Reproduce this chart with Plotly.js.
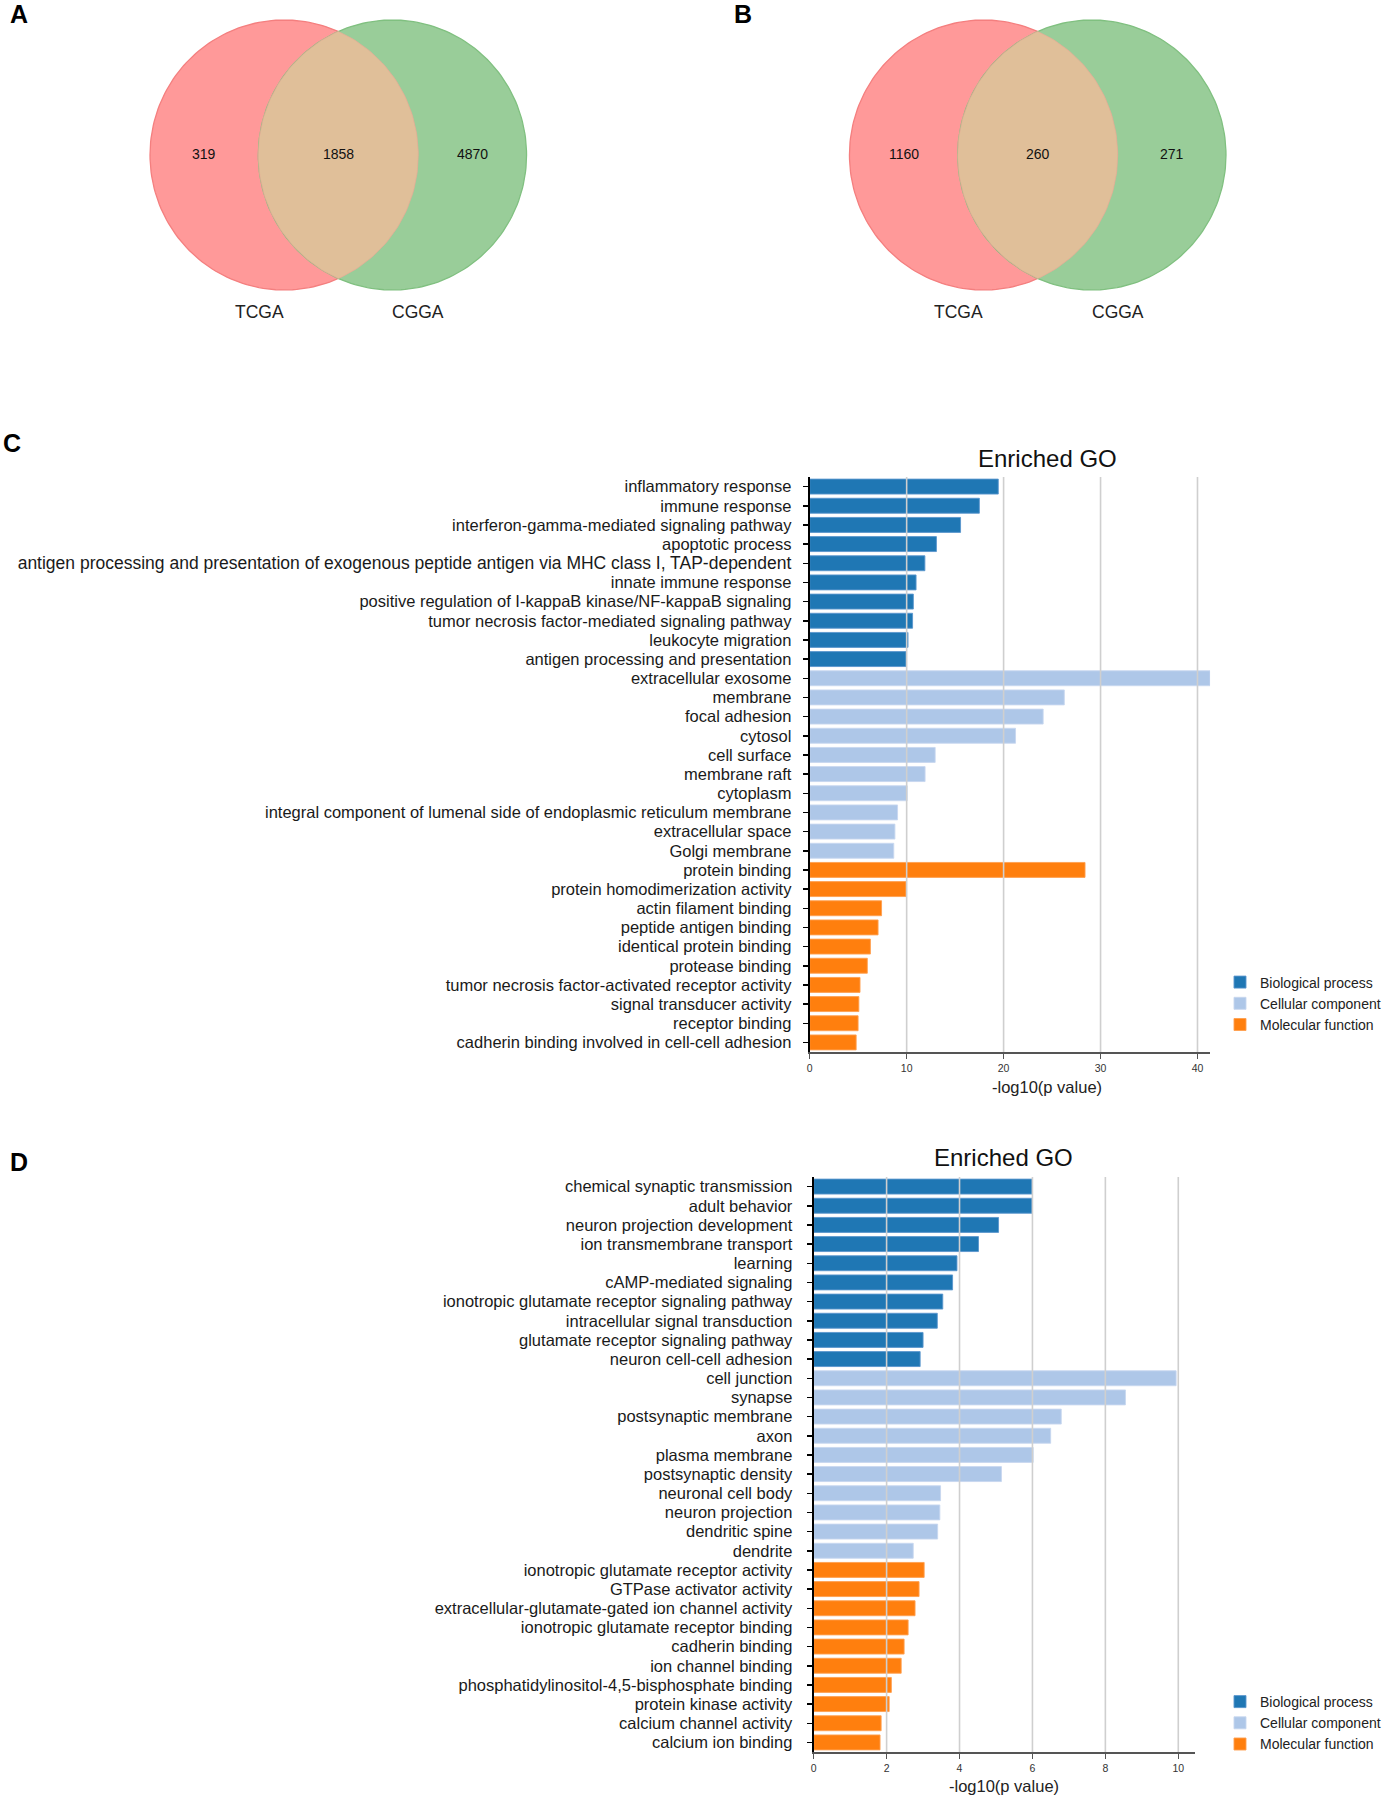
<!DOCTYPE html>
<html>
<head>
<meta charset="utf-8">
<script src="https://cdn.plot.ly/plotly-3.0.1.min.js"></script>
<style>html,body{margin:0;padding:0;background:#fff;}</style>
</head>
<body>
<div id="chart" style="width:1386px;height:1795px;"></div>
<script>
// ---------------- DATA ----------------
var vennSetNames = ['TCGA', 'CGGA'];
var vennACounts = [319, 1858, 4870];   // TCGA only, both, CGGA only
var vennBCounts = [1160, 260, 271];

var groupNames = ['Biological process', 'Cellular component', 'Molecular function'];
var groupColors = ['#1f77b4', '#aec7e8', '#ff7f0e'];

var cBPTerms = ['inflammatory response', 'immune response', 'interferon-gamma-mediated signaling pathway', 'apoptotic process',
  'antigen processing and presentation of exogenous peptide antigen via MHC class I, TAP-dependent', 'innate immune response',
  'positive regulation of I-kappaB kinase/NF-kappaB signaling', 'tumor necrosis factor-mediated signaling pathway',
  'leukocyte migration', 'antigen processing and presentation'];
var cBPValues = [19.45, 17.5, 15.56, 13.07, 11.88, 10.97, 10.69, 10.61, 10.14, 9.94];
var cCCTerms = ['extracellular exosome', 'membrane', 'focal adhesion', 'cytosol', 'cell surface', 'membrane raft', 'cytoplasm',
  'integral component of lumenal side of endoplasmic reticulum membrane', 'extracellular space', 'Golgi membrane'];
var cCCValues = [41.3, 26.26, 24.08, 21.23, 12.94, 11.9, 10.05, 9.06, 8.79, 8.67];
var cMFTerms = ['protein binding', 'protein homodimerization activity', 'actin filament binding', 'peptide antigen binding',
  'identical protein binding', 'protease binding', 'tumor necrosis factor-activated receptor activity',
  'signal transducer activity', 'receptor binding', 'cadherin binding involved in cell-cell adhesion'];
var cMFValues = [28.4, 9.94, 7.41, 7.05, 6.26, 5.94, 5.19, 5.07, 4.99, 4.79];
var cTickVals = [0, 10, 20, 30, 40];

var dBPTerms = ['chemical synaptic transmission', 'adult behavior', 'neuron projection development', 'ion transmembrane transport',
  'learning', 'cAMP-mediated signaling', 'ionotropic glutamate receptor signaling pathway', 'intracellular signal transduction',
  'glutamate receptor signaling pathway', 'neuron cell-cell adhesion'];
var dBPValues = [5.99, 5.99, 5.07, 4.52, 3.93, 3.81, 3.54, 3.39, 3.0, 2.92];
var dCCTerms = ['cell junction', 'synapse', 'postsynaptic membrane', 'axon', 'plasma membrane', 'postsynaptic density',
  'neuronal cell body', 'neuron projection', 'dendritic spine', 'dendrite'];
var dCCValues = [9.94, 8.55, 6.79, 6.5, 6.02, 5.15, 3.48, 3.46, 3.4, 2.73];
var dMFTerms = ['ionotropic glutamate receptor activity', 'GTPase activator activity', 'extracellular-glutamate-gated ion channel activity',
  'ionotropic glutamate receptor binding', 'cadherin binding', 'ion channel binding', 'phosphatidylinositol-4,5-bisphosphate binding',
  'protein kinase activity', 'calcium channel activity', 'calcium ion binding'];
var dMFValues = [3.03, 2.89, 2.78, 2.59, 2.48, 2.4, 2.13, 2.07, 1.85, 1.82];
var dTickVals = [0, 2, 4, 6, 8, 10];
var xAxisTitle = '-log10(p value)';
var chartTitle = 'Enriched GO';

// ---------------- LAYOUT HELPERS ----------------
var W = 1386, H = 1795;
var FONT = '"Liberation Sans", Arial, Helvetica, sans-serif';
function px(x) { return x / W; }
function py(y) { return 1 - y / H; }

var traces = [];
var annotations = [];
var shapes = [];

function addText(xref, yref, x, y, text, size, color) {
  annotations.push({xref: xref, yref: yref, x: x, y: y, xanchor: 'center', yanchor: 'middle', text: text,
    showarrow: false, font: {family: FONT, size: size, color: color}});
}

// ---------------- VENN ----------------
var R = 135, D = 109, CY = 155;
function circlePts(cx, cy, r, t0, t1, n) {
  var xs = [], ys = [];
  for (var i = 0; i <= n; i++) {
    var t = t0 + (t1 - t0) * i / n;
    xs.push(cx + r * Math.cos(t)); ys.push(cy + r * Math.sin(t));
  }
  return {x: xs, y: ys};
}
function addVenn(cx1, counts) {
  var cx2 = cx1 + D;
  var c1 = circlePts(cx1, CY, R, 0, 2 * Math.PI, 200);
  var c2 = circlePts(cx2, CY, R, 0, 2 * Math.PI, 200);
  traces.push({type: 'scatter', mode: 'lines', x: c1.x, y: c1.y, xaxis: 'x3', yaxis: 'y3', fill: 'toself',
    fillcolor: '#FF9999', line: {color: '#F47F7F', width: 1.3}, showlegend: false, hoverinfo: 'skip'});
  traces.push({type: 'scatter', mode: 'lines', x: c2.x, y: c2.y, xaxis: 'x3', yaxis: 'y3', fill: 'toself',
    fillcolor: '#99CD99', line: {color: '#80C080', width: 1.3}, showlegend: false, hoverinfo: 'skip'});
  var th = Math.acos((D / 2) / R);
  var a1 = circlePts(cx1, CY, R, -th, th, 80);
  var a2 = circlePts(cx2, CY, R, Math.PI - th, Math.PI + th, 80);
  traces.push({type: 'scatter', mode: 'lines', x: a1.x.concat(a2.x), y: a1.y.concat(a2.y), xaxis: 'x3', yaxis: 'y3',
    fill: 'toself', fillcolor: '#E0BF99', line: {color: 'rgba(235,170,150,0.7)', width: 1}, showlegend: false, hoverinfo: 'skip'});
  var lensL = cx2 - R, lensR = cx1 + R;
  var xsText = [((cx1 - R) + lensL) / 2, (cx1 + cx2) / 2, (lensR + (cx2 + R)) / 2];
  for (var i = 0; i < 3; i++) addText('x3', 'y3', xsText[i], CY - 1, String(counts[i]), 14, '#111');
  addText('x3', 'y3', cx1 - 25, 312, vennSetNames[0], 17.5, '#222');
  addText('x3', 'y3', cx2 + 26, 312, vennSetNames[1], 17.5, '#222');
}
addVenn(286, vennACounts);
addVenn(990, vennBCounts);

// ---------------- BAR CHARTS ----------------
var cTerms = cBPTerms.concat(cCCTerms, cMFTerms);
var dTerms = dBPTerms.concat(dCCTerms, dMFTerms);
var edgeColors = ['rgba(90,150,205,0.9)', 'rgba(200,215,240,0.9)', 'rgba(255,160,80,0.9)'];

function addBars(termsArr, valsArr, xa, ya, legendId) {
  for (var g = 0; g < 3; g++) {
    traces.push({type: 'bar', orientation: 'h', x: valsArr[g], y: termsArr[g], xaxis: xa, yaxis: ya,
      name: groupNames[g], legend: legendId, showlegend: true,
      marker: {color: groupColors[g], line: {color: edgeColors[g], width: 1}}, hoverinfo: 'skip'});
  }
}
addBars([cBPTerms, cCCTerms, cMFTerms], [cBPValues, cCCValues, cMFValues], 'x', 'y', 'legend');
addBars([dBPTerms, dCCTerms, dMFTerms], [dBPValues, dCCValues, dMFValues], 'x2', 'y2', 'legend2');

// grid lines drawn above bars
cTickVals.slice(1).forEach(function (v) {
  shapes.push({type: 'line', xref: 'x', yref: 'y domain', x0: v, x1: v, y0: 0, y1: 1, layer: 'above',
    line: {color: '#cfcfcf', width: 1.6}});
});
dTickVals.slice(1).forEach(function (v) {
  shapes.push({type: 'line', xref: 'x2', yref: 'y2 domain', x0: v, x1: v, y0: 0, y1: 1, layer: 'above',
    line: {color: '#cfcfcf', width: 1.6}});
});

// titles and axis titles
addText('paper', 'paper', px(1054), py(458), chartTitle, 24, '#111');
addText('paper', 'paper', px(1010), py(1157), chartTitle, 24, '#111');
addText('paper', 'paper', px(1054), py(1087), xAxisTitle, 16.5, '#222');
addText('paper', 'paper', px(1011), py(1786), xAxisTitle, 16.5, '#222');

// panel letters
[['A', 19, 14], ['B', 748, 14], ['C', 12, 443], ['D', 19, 1162]].forEach(function (p) {
  addText('paper', 'paper', px(p[1]), py(p[2]), '<b>' + p[0] + '</b>', 25, '#000');
});

function xAxis(domain, range, ticks, anchor) {
  return {domain: domain, range: range, autorange: false, anchor: anchor, tickmode: 'array', tickvals: ticks,
    showgrid: false, zeroline: false,
    showline: true, linecolor: '#555', linewidth: 2, ticks: 'outside', ticklen: 5, tickcolor: '#555', tickwidth: 1,
    tickfont: {family: FONT, size: 10.5, color: '#333'}, fixedrange: true};
}
// the very long MHC label is drawn a little wider in the original figure
function labelText(t) {
  return t.length > 80 ? '<span style="font-size:17.5px">' + t + '</span>' : t;
}
function yAxis(domain, cats, anchor, standoff) {
  return {domain: domain, type: 'category', categoryorder: 'array', categoryarray: cats, range: [cats.length - 0.5, -0.5],
    autorange: false, anchor: anchor, tickmode: 'array', tickvals: cats, ticktext: cats.map(labelText),
    showgrid: false, zeroline: false, showline: true, linecolor: '#000', linewidth: 2,
    ticks: 'outside', ticklen: 5, tickwidth: 1.5, tickcolor: '#000', ticklabelstandoff: standoff,
    tickfont: {family: FONT, size: 16.5, color: '#1a1a1a'}, fixedrange: true};
}

var layout = {
  width: W, height: H, autosize: false,
  margin: {l: 0, r: 0, t: 0, b: 0, pad: 0},
  paper_bgcolor: '#fff', plot_bgcolor: '#fff',
  font: {family: FONT},
  bargap: 0.22,
  showlegend: true,
  xaxis: xAxis([px(815), px(1218)], [0, 41.3], cTickVals, 'y'),
  yaxis: yAxis([py(1052), py(477)], cTerms, 'x', 8),
  xaxis2: xAxis([px(819), px(1202.5)], [0, 10.45], dTickVals, 'y2'),
  yaxis2: yAxis([py(1752), py(1177)], dTerms, 'x2', 11),
  xaxis3: {domain: [0, 1], range: [0, W], autorange: false, visible: false, anchor: 'y3', fixedrange: true},
  yaxis3: {domain: [py(340), 1], range: [340, 0], autorange: false, visible: false, anchor: 'x3', fixedrange: true},
  legend: {x: px(1228), y: py(966.5), xanchor: 'left', yanchor: 'top', bgcolor: 'rgba(0,0,0,0)', itemwidth: 30,
    font: {family: FONT, size: 14, color: '#222'}, traceorder: 'normal', tracegroupgap: 0},
  legend2: {x: px(1228), y: py(1686), xanchor: 'left', yanchor: 'top', bgcolor: 'rgba(0,0,0,0)', itemwidth: 30,
    font: {family: FONT, size: 14, color: '#222'}, traceorder: 'normal', tracegroupgap: 0},
  annotations: annotations,
  shapes: shapes
};

Plotly.newPlot('chart', traces, layout, {staticPlot: true, displayModeBar: false});
</script>
</body>
</html>
